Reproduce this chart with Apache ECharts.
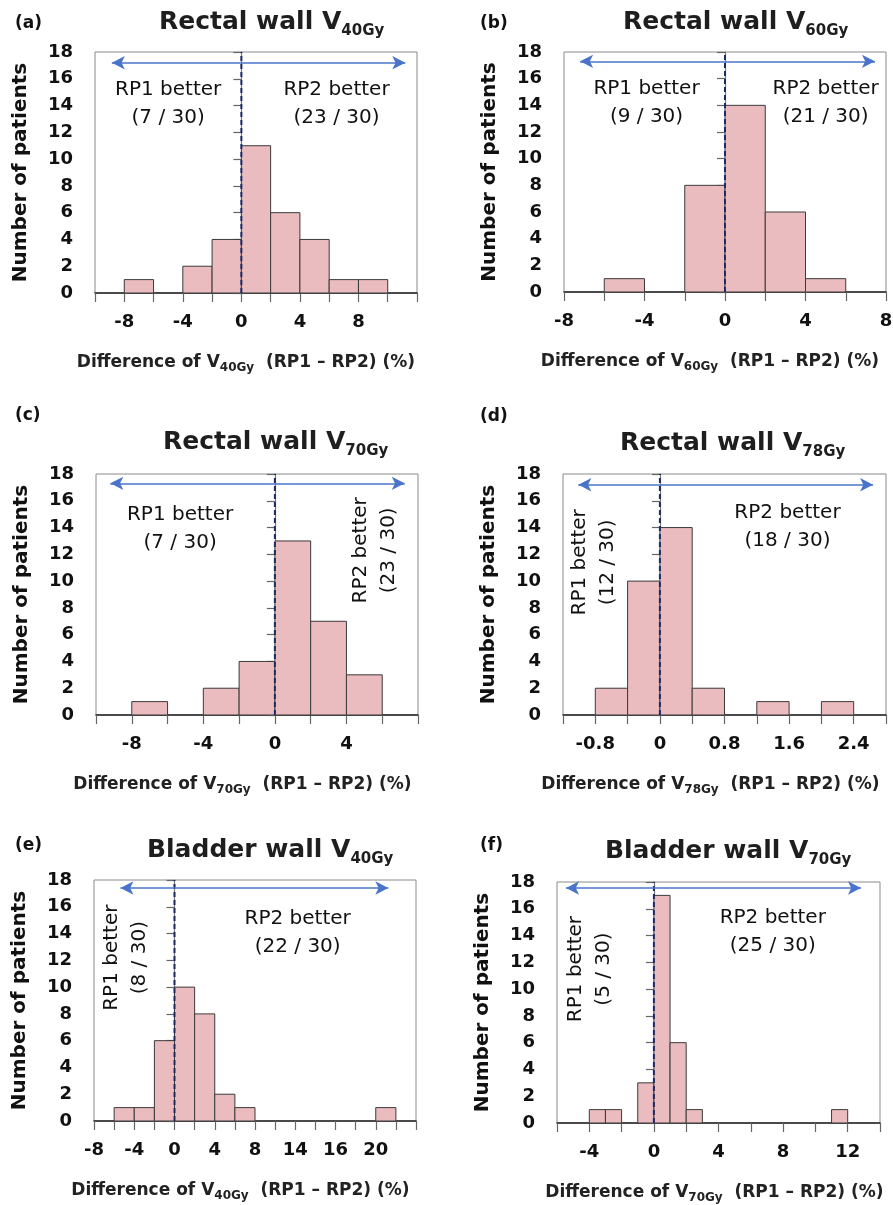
<!DOCTYPE html>
<html>
<head>
<meta charset="utf-8">
<script src="https://cdn.jsdelivr.net/npm/echarts@6/dist/echarts.min.js"></script>
<style>
  html, body { margin: 0; padding: 0; background: #fff; }
  #box { width: 893px; height: 1205px; }
</style>
</head>
<body>
<div id="box"></div>
<script>
// histogram bins (bin start + patient count, empty bins left out)
const binStartA = [-8, -4, -2, 0, 2, 4, 6, 8];
const countsA = [1, 2, 4, 11, 6, 4, 1, 1];
const binStartB = [-6, -2, 0, 2, 4];
const countsB = [1, 8, 14, 6, 1];
const binStartC = [-8, -4, -2, 0, 2, 4];
const countsC = [1, 2, 4, 13, 7, 3];
const binStartD = [-0.8, -0.4, 0, 0.4, 1.2, 2.0];
const countsD = [2, 10, 14, 2, 1, 1];
const binStartE = [-6, -4, -2, 0, 2, 4, 6, 20];
const countsE = [1, 1, 6, 10, 8, 2, 1, 1];
const binStartF = [-4, -3, -1, 0, 1, 2, 11];
const countsF = [1, 1, 3, 17, 6, 1, 1];

// x tick labels (values that get a label, and the label text)
const tickValsA = [-8, -4, 0, 4, 8];
const tickValsB = [-8, -4, 0, 4, 8];
const tickValsC = [-8, -4, 0, 4];
const tickValsD = [-0.8, 0, 0.8, 1.6, 2.4];
const tickTextD = ['-0.8', '0', '0.8', '1.6', '2.4'];
const tickValsE = [-8, -4, 0, 4, 8, 12, 16, 20];
const tickTextE = ['-8', '-4', '0', '4', '8', '14', '16', '20'];
const tickValsF = [-4, 0, 4, 8, 12];

// "better" counts
const betterA = ['7 / 30', '23 / 30'];
const betterB = ['9 / 30', '21 / 30'];
const betterC = ['7 / 30', '23 / 30'];
const betterD = ['12 / 30', '18 / 30'];
const betterE = ['8 / 30', '22 / 30'];
const betterF = ['5 / 30', '25 / 30'];

const F = '"DejaVu Sans", sans-serif';

const panels = [
  { tag: '(a)', organ: 'Rectal wall', sub: '40Gy', start: binStartA, counts: countsA, w: 2,
    xMin: -10, xMax: 12, xInt: 2, tv: tickValsA, better: betterA,
    grid: [95, 52, 322, 241], titleAt: [159, 6], tagAt: [15, 15],
    arrow: [-8.85, 11.2, 17.2], rp1: [-5.0, 14.15, 0], rp2: [6.5, 14.15, 0], shift: 20 },
  { tag: '(b)', organ: 'Rectal wall', sub: '60Gy', start: binStartB, counts: countsB, w: 2,
    xMin: -8, xMax: 8, xInt: 2, tv: tickValsB, better: betterB,
    grid: [564, 52, 322, 240], titleAt: [623, 6], tagAt: [480, 15],
    arrow: [-7.2, 7.45, 17.3], rp1: [-3.9, 14.17, 0], rp2: [5.0, 14.17, 0], shift: 30 },
  { tag: '(c)', organ: 'Rectal wall', sub: '70Gy', start: binStartC, counts: countsC, w: 2,
    xMin: -10, xMax: 8, xInt: 2, tv: tickValsC, better: betterC,
    grid: [96, 474, 322, 241], titleAt: [163, 426], tagAt: [15, 407],
    arrow: [-9.2, 7.26, 17.3], rp1: [-5.3, 13.94, 0], rp2: [5.57, 12.3, 90], shift: 29 },
  { tag: '(d)', organ: 'Rectal wall', sub: '78Gy', start: binStartD, counts: countsD, w: 0.4,
    xMin: -1.2, xMax: 2.8, xInt: 0.4, tv: tickValsD, tt: tickTextD, better: betterD,
    grid: [563, 474, 323, 241], titleAt: [620, 427], tagAt: [480, 408],
    arrow: [-1.01, 2.64, 17.2], rp1: [-0.82, 11.4, 90], rp2: [1.58, 14.06, 0], shift: 28 },
  { tag: '(e)', organ: 'Bladder wall', sub: '40Gy', start: binStartE, counts: countsE, w: 2,
    xMin: -8, xMax: 24, xInt: 2, tv: tickValsE, tt: tickTextE, better: betterE,
    grid: [94, 880, 322, 241], titleAt: [147, 834], tagAt: [15, 837],
    arrow: [-5.37, 21.25, 17.4], rp1: [-4.87, 12.2, 90], rp2: [12.24, 14.08, 0], shift: 29 },
  { tag: '(f)', organ: 'Bladder wall', sub: '70Gy', start: binStartF, counts: countsF, w: 1,
    xMin: -6, xMax: 14, xInt: 2, tv: tickValsF, better: betterF,
    grid: [557, 882, 323, 241], titleAt: [605, 835], tagAt: [480, 837],
    arrow: [-5.44, 12.82, 17.55], rp1: [-3.96, 11.5, 90], rp2: [7.36, 14.25, 0], shift: 8 }
];

function tickLabel(p, v) {
  for (let k = 0; k < p.tv.length; k++) {
    if (Math.abs(v - p.tv[k]) < 1e-6) return p.tt ? p.tt[k] : String(p.tv[k]);
  }
  return '';
}

const titles = [];
panels.forEach(p => {
  titles.push({
    text: '{m|' + p.organ + ' V}{s|' + p.sub + '}',
    left: p.titleAt[0], top: p.titleAt[1], padding: 0,
    textStyle: {
      rich: {
        m: { fontFamily: F, fontSize: 25, fontWeight: 'bold', color: '#1e1e1e' },
        s: { fontFamily: F, fontSize: 15, fontWeight: 'bold', color: '#1e1e1e', padding: [18, 0, 0, 0] }
      }
    }
  });
  titles.push({
    text: p.tag, left: p.tagAt[0], top: p.tagAt[1], padding: 0,
    textStyle: { fontFamily: F, fontSize: 17, fontWeight: 'bold', color: '#111' }
  });
});

const series = [];
panels.forEach((p, i) => {
  series.push({
    type: 'custom', xAxisIndex: i, yAxisIndex: i, z: 2,
    data: p.start.map((s, k) => [s, s + p.w, p.counts[k]]),
    encode: { x: [0, 1], y: 2 },
    renderItem: (params, api) => {
      const a = api.coord([api.value(0), api.value(2)]);
      const b = api.coord([api.value(1), 0]);
      return {
        type: 'rect',
        shape: { x: a[0], y: a[1], width: b[0] - a[0], height: b[1] - a[1] },
        style: { fill: '#ebbcbf', stroke: '#3a3a3a', lineWidth: 1 }
      };
    }
  });
  series.push({
    type: 'line', xAxisIndex: i, yAxisIndex: i, z: 4, silent: true,
    data: [[0, 0], [0, 18]], symbol: 'none',
    lineStyle: { color: '#1b2a6b', width: 2, type: [5, 3] },
    markLine: {
      silent: true, symbol: ['arrow', 'arrow'], symbolSize: [10, 13],
      label: { show: false },
      lineStyle: { color: '#4a74c9', width: 1.5, type: 'solid' },
      data: [[{ coord: [p.arrow[0], p.arrow[2]] }, { coord: [p.arrow[1], p.arrow[2]] }]]
    }
  });
  series.push({
    type: 'scatter', xAxisIndex: i, yAxisIndex: i, z: 5, silent: true,
    symbolSize: 1, itemStyle: { color: 'rgba(255,255,255,0)' },
    label: {
      show: true, position: 'inside', formatter: '{b}', align: 'center',
      fontFamily: F, fontSize: 20, lineHeight: 28, color: '#111',
      textBorderWidth: 0, opacity: 1
    },
    data: [
      { value: [p.rp1[0], p.rp1[1]], name: 'RP1 better\n(' + p.better[0] + ')', label: { rotate: p.rp1[2] } },
      { value: [p.rp2[0], p.rp2[1]], name: 'RP2 better\n(' + p.better[1] + ')', label: { rotate: p.rp2[2] } }
    ]
  });
});

const chart = echarts.init(document.getElementById('box'));
chart.setOption({
  animation: false,
  backgroundColor: '#fff',
  title: titles,
  grid: panels.map(p => ({
    left: p.grid[0], top: p.grid[1], width: p.grid[2], height: p.grid[3],
    show: true, borderColor: '#8a8a8a', borderWidth: 1, containLabel: false, outerBoundsMode: 'none'
  })),
  xAxis: panels.map((p, i) => ({
    type: 'value', gridIndex: i, min: p.xMin, max: p.xMax, interval: p.xInt,
    axisLine: { show: true, onZero: false, lineStyle: { color: '#222', width: 1.5 } },
    axisTick: { show: true, length: 9, lineStyle: { color: '#666', width: 1.2 } },
    splitLine: { show: false },
    axisLabel: {
      margin: 20, fontFamily: F, fontSize: 18, fontWeight: 'bold', color: '#111',
      showMinLabel: true, showMaxLabel: true, hideOverlap: false,
      formatter: v => tickLabel(p, v)
    },
    name: '{m|Difference of V}{s|' + p.sub + '}{m|  (RP1 – RP2) (%)}',
    nameLocation: 'middle', nameGap: 58,
    nameTextStyle: {
      padding: [0, p.shift, 0, 0],
      rich: {
        m: { fontFamily: F, fontSize: 17, fontWeight: 'bold', color: '#222' },
        s: { fontFamily: F, fontSize: 12, fontWeight: 'bold', color: '#222', padding: [11, 0, 0, 0] }
      }
    }
  })),
  yAxis: panels.map((p, i) => ({
    type: 'value', gridIndex: i, min: 0, max: 18, interval: 2,
    axisLine: { show: true, lineStyle: { color: '#777', width: 1.2 } },
    axisTick: { show: true, length: 8, lineStyle: { color: '#666', width: 1.2 } },
    splitLine: { show: false },
    axisLabel: { margin: 22, fontFamily: F, fontSize: 18, fontWeight: 'bold', color: '#111' },
    name: 'Number of patients', nameLocation: 'middle', nameGap: 64,
    nameTextStyle: { fontFamily: F, fontSize: 20, fontWeight: 'bold', color: '#111' }
  })),
  series: series
});
</script>
</body>
</html>
